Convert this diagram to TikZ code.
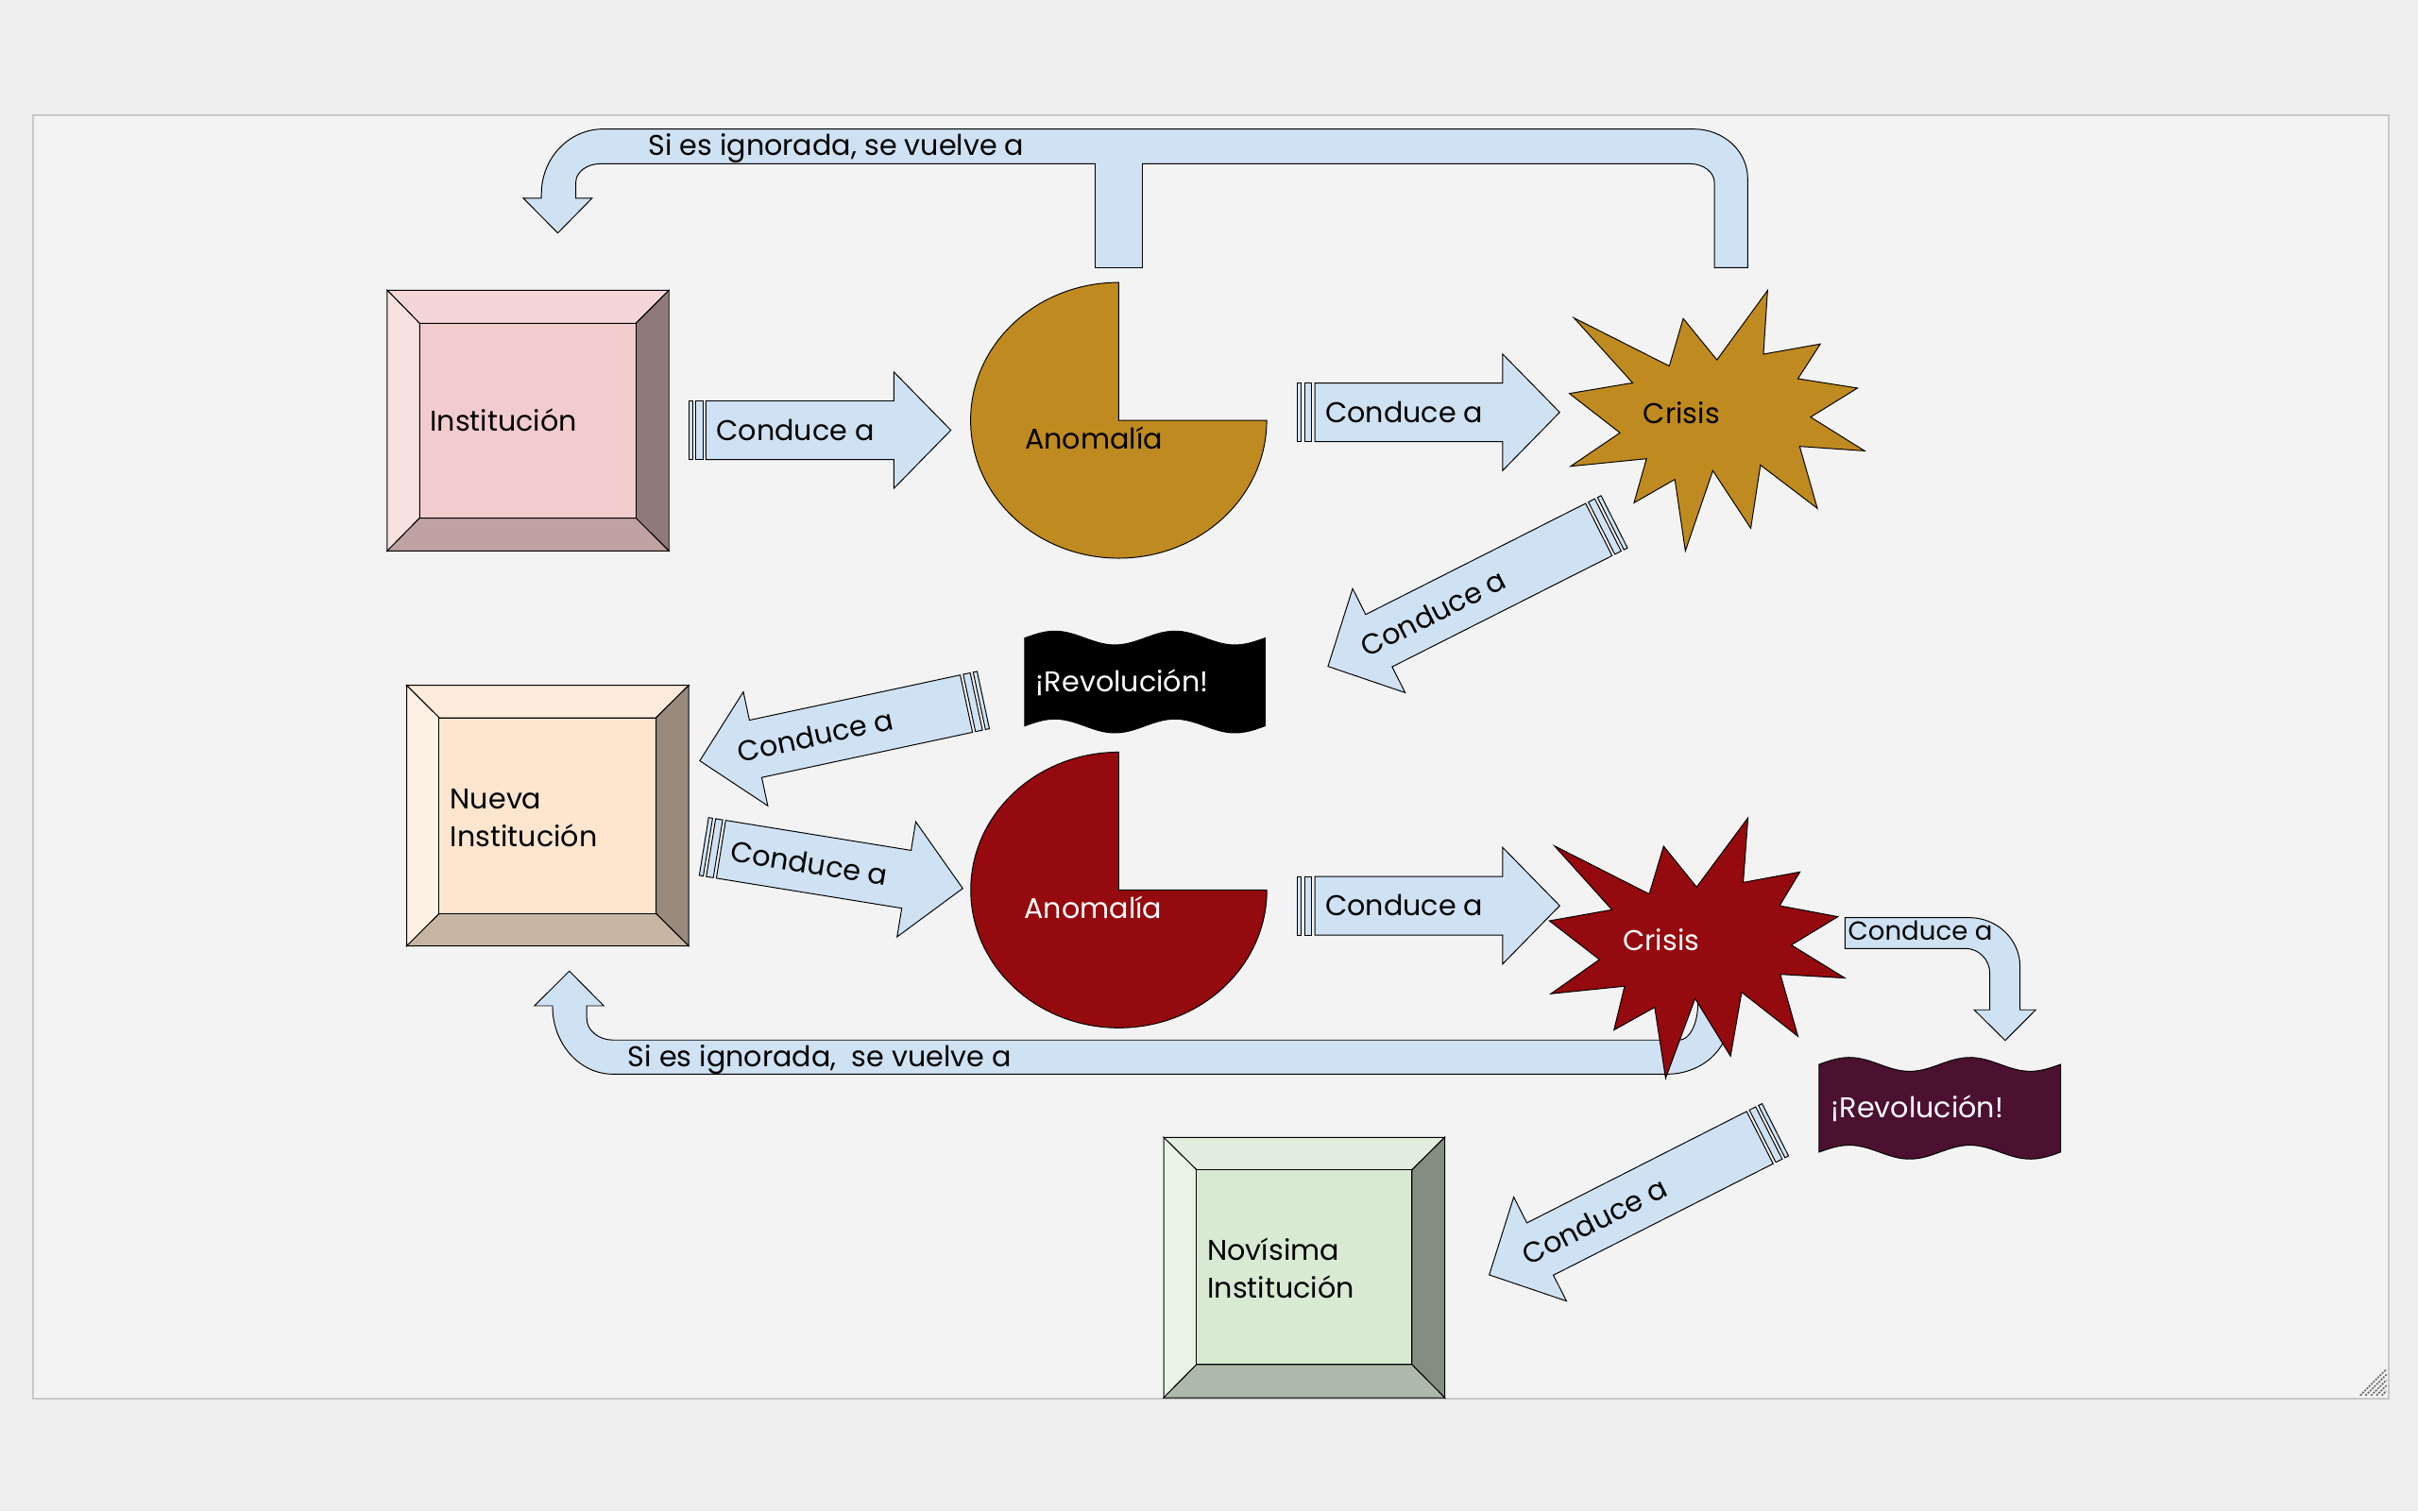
\documentclass[tikz,border=0pt]{standalone}
\usepackage{fontspec}
\setmainfont{Poppins}
\definecolor{bgout}{HTML}{EEEEEE}
\definecolor{canvasfill}{HTML}{F3F3F3}
\definecolor{canvasline}{HTML}{C8C8C8}
\definecolor{arrowfill}{HTML}{CFE2F3}
\definecolor{goldfill}{HTML}{BF8B20}
\definecolor{redfill}{HTML}{950A0E}
\definecolor{maroonfill}{HTML}{4C1130}
\definecolor{gripcol}{HTML}{6B6B6B}
% Institucion
\definecolor{ai}{HTML}{F2CCCC}\definecolor{at}{HTML}{F5D6D8}\definecolor{al}{HTML}{F8E1E1}
\definecolor{ar}{HTML}{8F7A79}\definecolor{ab}{HTML}{C0A2A3}
% Nueva
\definecolor{bi}{HTML}{FDE5CE}\definecolor{bt}{HTML}{FDEBDB}\definecolor{bl}{HTML}{FEF2E7}
\definecolor{br}{HTML}{998A7B}\definecolor{bb}{HTML}{C9B5A3}
% Novisima
\definecolor{ci}{HTML}{D9EAD3}\definecolor{ct}{HTML}{E2EEDD}\definecolor{cl}{HTML}{E8F2E5}
\definecolor{cr}{HTML}{838D80}\definecolor{cb}{HTML}{ADB9A9}
\newcommand{\bevelbox}[9]{%
  \draw[shp, fill=#9t] (#1,#2) -- (#3,#2) -- (#7,#6) -- (#5,#6) -- cycle;
  \draw[shp, fill=#9l] (#1,#2) -- (#5,#6) -- (#5,#8) -- (#1,#4) -- cycle;
  \draw[shp, fill=#9r] (#3,#2) -- (#3,#4) -- (#7,#8) -- (#7,#6) -- cycle;
  \draw[shp, fill=#9b] (#1,#4) -- (#5,#8) -- (#7,#8) -- (#3,#4) -- cycle;
  \draw[shp, fill=#9i] (#5,#6) rectangle (#7,#8);
}
\newcommand{\stripedarrow}[6]{%
  \begin{scope}[shift={#1}, rotate=#2]
    \draw[arr] (0,-19) rectangle (2.6,19);
    \draw[arr] (4.6,-19) rectangle (9.2,19);
    \draw[arr] (11.2,-19) -- ({#3-37},-19) -- ({#3-37},-37.8) -- (#3,0)
      -- ({#3-37},37.8) -- ({#3-37},19) -- (11.2,19) -- cycle;
    \node[lbl, rotate=#6] (#4) at (#5,0) {Conduce a};
  \end{scope}
}
\begin{document}
\begin{tikzpicture}[x=1pt,y=-1pt,
  font=\fontsize{18.5}{24.5}\selectfont,
  shp/.style={draw=black, line width=0.6pt, line join=miter},
  arr/.style={shp, fill=arrowfill},
  lbl/.style={inner sep=0pt, anchor=west, text height=12.9pt, text depth=0pt},
  tbl/.style={inner sep=0pt, anchor=west, align=left}]
\useasboundingbox (0,0) rectangle (1568,980);
\fill[bgout] (0,0) rectangle (1568,980);
\draw[draw=canvasline, fill=canvasfill, line width=1.2pt] (21.6,75) rectangle (1548.8,907);

% bevel boxes
\bevelbox{251.1}{188.2}{433.8}{357.3}{272.1}{209.7}{412.4}{336.0}{a}
\bevelbox{263.7}{444.5}{446.6}{613.5}{284.8}{465.5}{425.4}{592.5}{b}
\bevelbox{754.6}{737.6}{936.9}{906.5}{775.9}{758.7}{915.6}{885.0}{c}

% pies
\draw[shp, fill=goldfill] (725.4,272.6) -- (725.4,183.2)
  .. controls (672.4,183.2) and (629.4,223.2) .. (629.4,272.6)
  .. controls (629.4,322.0) and (672.4,362) .. (725.4,362)
  .. controls (778.4,362) and (821.4,322.0) .. (821.4,272.6) -- cycle;
\draw[shp, fill=redfill] (725.5,577.2) -- (725.5,487.8)
  .. controls (672.5,487.8) and (629.5,527.8) .. (629.5,577.2)
  .. controls (629.5,626.6) and (672.5,666.6) .. (725.5,666.6)
  .. controls (778.5,666.6) and (821.5,626.6) .. (821.5,577.2) -- cycle;

% top U-turn arrow
\draw[arr] (361.7,151.1) -- (383.9,128.6) -- (373.4,128.6) -- (373.4,118.2)
  .. controls (373.4,111.6) and (380.6,106.2) .. (389.4,106.2)
  -- (1095.7,106.2) .. controls (1104.5,106.2) and (1111.7,111.6) .. (1111.7,118.2)
  -- (1111.7,173.5) -- (1133.3,173.5) -- (1133.3,115.7)
  .. controls (1133.3,98.0) and (1117.6,83.7) .. (1098.3,83.7)
  -- (391.1,83.7) .. controls (369.0,83.7) and (351.1,102.5) .. (351.1,125.7)
  -- (351.1,128.6) -- (339.4,128.6) -- cycle;
\fill[arrowfill] (710.3,105.6) rectangle (740.7,173.5);
\draw[shp] (710.3,106.2) -- (710.3,173.5) -- (740.7,173.5) -- (740.7,106.2);
\node[lbl] (topband) at (420.2,94.4) {Si es ignorada, se vuelve a};

% straight and tilted arrows
\stripedarrow{(446.6,279)}{0}{170}{c1}{17.8}{0}
\stripedarrow{(841.4,267.4)}{0}{170}{c2}{17.8}{0}
\stripedarrow{(841.4,587.4)}{0}{170}{c3}{17.8}{0}
\stripedarrow{(1046.8,338.4)}{206.8}{208}{c4}{182.7}{26.8}
\stripedarrow{(637.6,454.0)}{192.1}{188}{c5}{162.7}{12.1}
\stripedarrow{(456.5,549.0)}{-9.2}{170}{c6}{17.8}{-9.2}
\stripedarrow{(1151.2,732.7)}{206.9}{208}{c7}{182.7}{26.9}

% bottom U-turn arrow
\draw[arr] (369.2,629.8) -- (391.5,652.3) -- (380.5,652.3) -- (380.5,660.5)
  .. controls (380.5,668.2) and (388.1,674.5) .. (397.5,674.5)
  -- (1089,674.5) .. controls (1095.6,674.5) and (1101,664.0) .. (1101,651)
  -- (1101,640) -- (1121,640) -- (1121,661.6)
  .. controls (1121,680.9) and (1103.1,696.6) .. (1081,696.6)
  -- (397.3,696.6) .. controls (375.8,696.6) and (358.3,676.9) .. (358.3,652.6)
  -- (358.3,652.3) -- (346.6,652.3) -- cycle;
\node[lbl] (botband) at (407.1,685.5) {Si es ignorada,\ \ se vuelve a};

% bent arrow
\draw[arr] (1196.4,595.1) -- (1276.9,595.1)
  .. controls (1295.1,595.1) and (1309.9,609.3) .. (1309.9,626.8)
  -- (1309.9,654.9) -- (1320.1,654.9) -- (1300.3,674.8) -- (1280.2,654.9)
  -- (1290.3,654.9) -- (1290.3,631.1)
  .. controls (1290.3,622.3) and (1283.1,615.1) .. (1274.3,615.1)
  -- (1196.4,615.1) -- cycle;
\node[lbl, font=\fontsize{16.9}{22}\selectfont, text height=11.8pt] (bent) at (1198.2,603.8) {Conduce a};

% starbursts
\draw[shp, fill=goldfill] (1146.2,188.4) -- (1143.5,229.7) -- (1180.4,223.1) -- (1165.9,245.6)
  -- (1204.5,251.7) -- (1174.1,270.5) -- (1209.1,292.4) -- (1167.0,289.5) -- (1178.5,329.7)
  -- (1141.6,301.6) -- (1135.3,342.6) -- (1110.7,305.2) -- (1092.9,357.3) -- (1086.1,310.9)
  -- (1059.6,326.1) -- (1067.7,297.5) -- (1018.5,302.4) -- (1050.5,280.7) -- (1017.7,255.2)
  -- (1058.7,248.3) -- (1020.7,206.2) -- (1082.5,237.4) -- (1091.5,206.6) -- (1113.4,233.4) -- cycle;
\draw[shp, fill=redfill] (1133.5,530.4) -- (1130.4,572.3) -- (1167.2,565.5) -- (1154.0,587.4)
  -- (1191.8,594.5) -- (1161.6,612.9) -- (1196.4,634.3) -- (1154.5,631.9) -- (1165.9,672.1)
  -- (1129.4,643.5) -- (1122.2,685.0) -- (1099.2,647.6) -- (1080.1,699.3) -- (1073.0,653.3)
  -- (1046.6,668.0) -- (1053.5,639.6) -- (1005.7,644.5) -- (1037.2,622.3) -- (1004.7,597.2)
  -- (1045.3,590.0) -- (1008.0,548.6) -- (1069.5,579.8) -- (1078.8,548.8) -- (1100.2,575.3) -- cycle;

% flags
\draw[shp, fill=black] plot[domain=0:155.8, samples=50] ({664.5+\x},{413.8-4.5*sin(4.6213*\x)})
  -- plot[domain=155.8:0, samples=50] ({664.5+\x},{470.8-4.5*sin(4.6213*\x)}) -- cycle;
\draw[shp, fill=maroonfill] plot[domain=0:156.6, samples=50] ({1179.6+\x},{690.3-4.5*sin(4.5977*\x)})
  -- plot[domain=156.6:0, samples=50] ({1179.6+\x},{747.2-4.5*sin(4.5977*\x)}) -- cycle;

% texts
\node[lbl] (inst) at (278.7,272.9) {Institución};
\node[tbl] (nueva) at (291.8,530.4) {Nueva\\Institución};
\node[tbl] (novis) at (782.8,822.7) {Novísima\\Institución};
\node[lbl] (anom1) at (664.5,284.8) {Anomalía};
\node[lbl, text=white] (anom2) at (664.1,589.5) {Anomalía};
\node[lbl] (cris1) at (1065.5,268) {Crisis};
\node[lbl, text=white] (cris2) at (1052.2,610.2) {Crisis};
\node[lbl, text=white] (rev1) at (671.7,442.5) {¡Revolución!};
\node[lbl, text=white] (rev2) at (1187.2,718.7) {¡Revolución!};

% resize grip
\foreach \k in {0,1,2,3,4} {
  \draw[gripcol, line width=1.1pt, dash pattern=on 1.2pt off 0.8pt]
    ({1530.5+3.5*\k},905) -- (1547.5,{888+3.5*\k});
}
\end{tikzpicture}
\end{document}
